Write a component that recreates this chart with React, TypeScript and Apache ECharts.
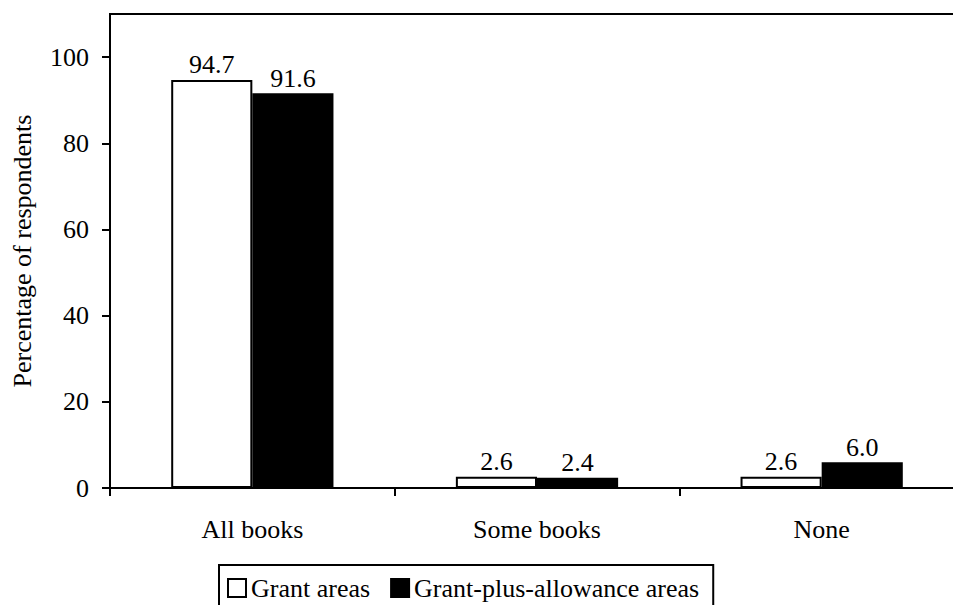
import React, { useEffect, useRef } from "react";
import * as echarts from "echarts";

const categories = ["All books", "Some books", "None"];
const grantAreas = [94.7, 2.6, 2.6];
const grantPlusAllowance = [91.6, 2.4, 6.0];
const seriesNames = ["Grant areas", "Grant-plus-allowance areas"];
const yAxisTitle = "Percentage of respondents";

const FONT = "Liberation Serif";
const FS = 26;

export default function App() {
  const ref = useRef<HTMLDivElement>(null);

  useEffect(() => {
    if (!ref.current) return;
    const chart = echarts.init(ref.current, undefined, { renderer: "svg" });
    const valueLabel = {
      show: true,
      position: "top" as const,
      distance: 2,
      color: "#000",
      fontFamily: FONT,
      fontSize: FS,
      formatter: (p: any) => Number(p.value).toFixed(1),
    };
    chart.setOption({
      animation: false,
      backgroundColor: "#fff",
      textStyle: { fontFamily: FONT, color: "#000" },
      grid: {
        left: 110,
        top: 14,
        bottom: 117,
        right: 0,
        show: true,
        borderColor: "#000",
        borderWidth: 2,
        containLabel: false,
      },
      legend: {
        left: 219,
        top: 565,
        orient: "horizontal",
        itemWidth: 18,
        itemHeight: 18,
        itemGap: 20,
        padding: [10, 14, 20, 8],
        borderColor: "#000",
        borderWidth: 2,
        borderRadius: 0,
        icon: "rect",
        textStyle: { fontFamily: FONT, fontSize: FS, color: "#000" },
        data: seriesNames,
      },
      xAxis: {
        type: "category",
        data: categories,
        axisLine: { lineStyle: { color: "#000", width: 2 } },
        axisTick: { show: true, length: 8, lineStyle: { color: "#000", width: 2 } },
        axisLabel: { color: "#000", fontFamily: FONT, fontSize: FS, margin: 28 },
        splitLine: { show: false },
      },
      yAxis: {
        type: "value",
        min: 0,
        max: 110,
        interval: 20,
        name: yAxisTitle,
        nameLocation: "middle",
        nameGap: 75,
        nameTextStyle: { fontFamily: FONT, fontSize: FS, color: "#000" },
        axisLine: { show: true, lineStyle: { color: "#000", width: 2 } },
        axisTick: { show: true, length: 8, lineStyle: { color: "#000", width: 2 } },
        axisLabel: {
          color: "#000",
          fontFamily: FONT,
          fontSize: FS,
          margin: 21,
          showMaxLabel: false,
        },
        splitLine: { show: false },
      },
      series: [
        {
          name: seriesNames[0],
          type: "bar",
          data: grantAreas,
          barGap: "0%",
          barCategoryGap: "43%",
          itemStyle: { color: "#fff", borderColor: "#000", borderWidth: 2 },
          label: valueLabel,
        },
        {
          name: seriesNames[1],
          type: "bar",
          data: grantPlusAllowance,
          barGap: "0%",
          barCategoryGap: "43%",
          itemStyle: { color: "#000", borderColor: "#000", borderWidth: 2 },
          label: valueLabel,
        },
      ],
    });
    return () => chart.dispose();
  }, []);

  // The plot frame runs a little past the right edge of the window.
  return (
    <div
      ref={ref}
      style={{ position: "fixed", left: 0, top: 0, width: 964, height: 605 }}
    />
  );
}
